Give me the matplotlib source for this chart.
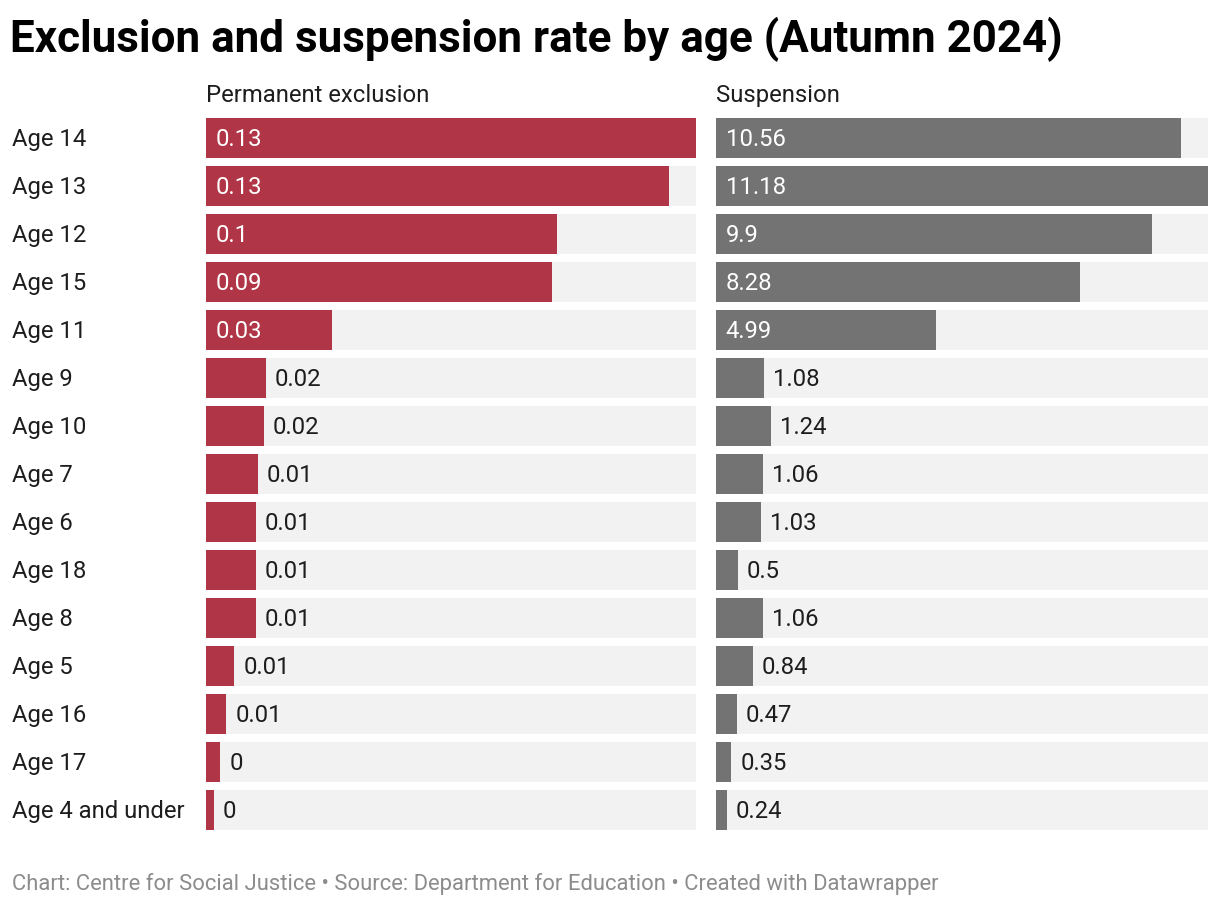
import matplotlib.pyplot as plt

plt.rcParams['font.family'] = ['Roboto', 'DejaVu Sans']

# Data (rows in display order, top to bottom)
ages = ['Age 14', 'Age 13', 'Age 12', 'Age 15', 'Age 11', 'Age 9', 'Age 10',
        'Age 7', 'Age 6', 'Age 18', 'Age 8', 'Age 5', 'Age 16', 'Age 17',
        'Age 4 and under']
exclusion = [0.134, 0.1265, 0.096, 0.0945, 0.0345, 0.0164, 0.0158, 0.0142,
             0.0137, 0.0137, 0.0137, 0.0077, 0.0055, 0.0039, 0.0022]
suspension = [10.56, 11.18, 9.9, 8.28, 4.99, 1.08, 1.24, 1.06, 1.03, 0.5,
              1.06, 0.84, 0.47, 0.35, 0.24]

W, H = 1220, 906
RED = '#b03546'
GREY = '#737373'
BG = '#f2f2f2'
TXT = '#1d1d1d'
FS = 17.2


def fmt(v):
    return f"{v:.2f}".rstrip('0').rstrip('.')


def px_box(x0, y0, x1, y1):
    """Convert pixel box (top-left origin) to figure fraction rect."""
    return [x0 / W, 1 - y1 / H, (x1 - x0) / W, (y1 - y0) / H]


def draw_panel(ax, values, color, header):
    n = len(values)
    vmax = max(values)
    ys = range(n)
    ax.barh(ys, [vmax] * n, height=40 / 48, color=BG, linewidth=0)
    ax.barh(ys, values, height=40 / 48, color=color, linewidth=0)
    ax.set_xlim(0, vmax)
    ax.set_ylim(n - 0.5, -0.5)
    ax.axis('off')
    for y, v in zip(ys, values):
        if v / vmax > 0.2:
            ax.annotate(fmt(v), (0, y), xytext=(7.0, -1.2), textcoords='offset points',
                        va='center', ha='left', color='white', fontsize=FS)
        else:
            ax.annotate(fmt(v), (v, y), xytext=(6.5, -1.2), textcoords='offset points',
                        va='center', ha='left', color=TXT, fontsize=FS)
    ax.text(0, -0.5 - 12 / 48, header, transform=ax.transData, ha='left',
            va='baseline', fontsize=FS, color=TXT)


fig = plt.figure(figsize=(W / 100, H / 100), dpi=100)

ax_l = fig.add_axes(px_box(206, 114, 696, 834))
ax_r = fig.add_axes(px_box(716, 114, 1208, 834))
draw_panel(ax_l, exclusion, RED, 'Permanent exclusion')
draw_panel(ax_r, suspension, GREY, 'Suspension')

for y, name in enumerate(ages):
    ax_l.annotate(name, (0, y), xycoords=('figure fraction', 'data'),
                  xytext=(12 * 0.72, -1.2), textcoords='offset points',
                  va='center', ha='left', fontsize=FS, color=TXT)

fig.text(10 / W, 1 - 52 / H, 'Exclusion and suspension rate by age (Autumn 2024)',
         fontsize=31.7, fontweight='bold', color='black', va='baseline', ha='left')
fig.text(12 / W, 1 - 890 / H,
         'Chart: Centre for Social Justice \u2022 Source: Department for Education '
         '\u2022 Created with Datawrapper',
         fontsize=15.8, color='#8c8c8c', va='baseline', ha='left')

fig.savefig('out.png', dpi=100, facecolor='white')
